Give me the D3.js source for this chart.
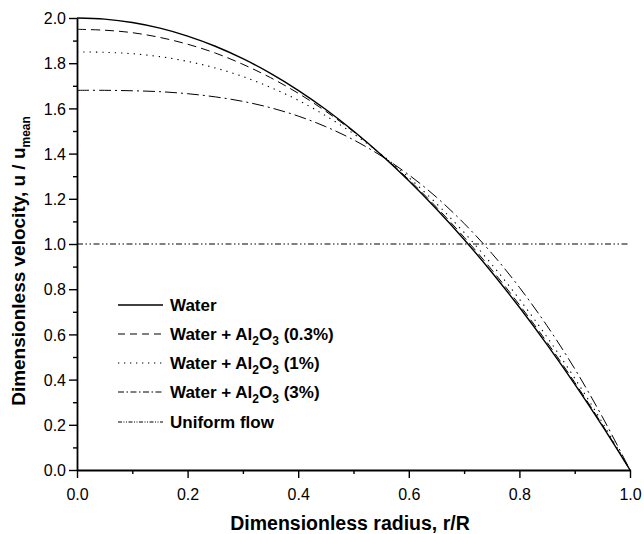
<!DOCTYPE html>
<html>
<head>
<meta charset="utf-8">
<script src="https://cdn.jsdelivr.net/npm/d3@7"></script>
<style>
  body { margin: 0; background: #fff; }
  svg { font-family: "Liberation Sans", Arial, sans-serif; }
</style>
</head>
<body>
<div id="chart"></div>
<script>
const radius = [0, 0.05, 0.1, 0.15, 0.2, 0.25, 0.3, 0.35, 0.4, 0.45, 0.5,
                0.55, 0.6, 0.65, 0.7, 0.75, 0.8, 0.85, 0.9, 0.95, 1.0];

const water = [2.0, 1.995, 1.98, 1.955, 1.92, 1.875, 1.82, 1.755, 1.68, 1.595, 1.5,
               1.395, 1.28, 1.155, 1.02, 0.875, 0.72, 0.555, 0.38, 0.195, 0];
const al03 = [1.95, 1.946, 1.935, 1.914, 1.884, 1.845, 1.795, 1.736, 1.667, 1.587, 1.497,
              1.396, 1.285, 1.163, 1.03, 0.886, 0.731, 0.565, 0.388, 0.2, 0];
const al1 = [1.85, 1.848, 1.842, 1.829, 1.808, 1.779, 1.741, 1.693, 1.636, 1.567, 1.488,
             1.397, 1.294, 1.179, 1.051, 0.91, 0.756, 0.588, 0.406, 0.21, 0];
const al3 = [1.68, 1.68, 1.678, 1.674, 1.665, 1.651, 1.631, 1.603, 1.566, 1.519, 1.461,
             1.39, 1.306, 1.207, 1.091, 0.959, 0.808, 0.638, 0.448, 0.235, 0];
const uniform = [1.0, 1.0];
const uniformRadius = [0, 1];

const xTicks = [0, 0.2, 0.4, 0.6, 0.8, 1.0];
const yTicks = [0, 0.2, 0.4, 0.6, 0.8, 1.0, 1.2, 1.4, 1.6, 1.8, 2.0];

const series = [
  { r: radius, u: water, dash: null, legendDash: null, width: 1.4 },
  { r: radius, u: al03, dash: '9,5', legendDash: '7,5', width: 1 },
  { r: radius, u: al1, dash: '1.3,5', legendDash: '1.3,4.7', width: 1.1 },
  { r: radius, u: al3, dash: '12,4,2,4', legendDash: '6,2.5,1.5,2.5', width: 1 },
  { r: uniformRadius, u: uniform, dash: '6,2.5,1.5,2.5,1.5,2.5', legendDash: '4,1.5,1,1.5,1,1.5', width: 1 }
];

const width = 644, height = 534;
const margin = { left: 77, right: 14, top: 18, bottom: 64 };

const svg = d3.select('#chart').append('svg')
  .attr('width', width)
  .attr('height', height);

const x = d3.scaleLinear().domain([0, 1]).range([margin.left, width - margin.right]);
const y = d3.scaleLinear().domain([0, 2]).range([height - margin.bottom, margin.top]);

// curves
const line = d3.line()
  .x(d => x(d[0]))
  .y(d => y(d[1]))
  .curve(d3.curveCatmullRom);

for (const s of series) {
  svg.append('path')
    .datum(s.r.map((r, i) => [r, s.u[i]]))
    .attr('fill', 'none')
    .attr('stroke', '#000')
    .attr('stroke-width', s.width)
    .attr('stroke-dasharray', s.dash)
    .attr('d', line);
}

// axes
const xAxis = svg.append('g')
  .attr('transform', `translate(0,${y(0)})`)
  .call(d3.axisBottom(x).tickValues(xTicks).tickFormat(d3.format('.1f')).tickSize(8).tickSizeOuter(0));
svg.append('g')
  .attr('transform', `translate(0,${y(0)})`)
  .call(d3.axisBottom(x).tickValues(d3.range(0.1, 1, 0.2)).tickFormat('').tickSize(4).tickSizeOuter(0))
  .select('.domain').remove();

const yAxis = svg.append('g')
  .attr('transform', `translate(${x(0)},0)`)
  .call(d3.axisLeft(y).tickValues(yTicks).tickFormat(d3.format('.1f')).tickSize(8).tickSizeOuter(0));
svg.append('g')
  .attr('transform', `translate(${x(0)},0)`)
  .call(d3.axisLeft(y).tickValues(d3.range(0.1, 2, 0.2)).tickFormat('').tickSize(4).tickSizeOuter(0))
  .select('.domain').remove();

svg.selectAll('.domain').attr('stroke-width', 1.8);
svg.selectAll('.tick line').attr('stroke-width', 1.4);
xAxis.selectAll('text').style('font-size', '16px').attr('dy', null).attr('y', 30);
yAxis.selectAll('text').style('font-size', '16px').attr('x', -11).attr('dy', '0.36em');

// axis titles
svg.append('text')
  .attr('x', 350)
  .attr('y', 530)
  .attr('text-anchor', 'middle')
  .style('font-size', '19.5px')
  .style('font-weight', 'bold')
  .text('Dimensionless radius, r/R');

const yt = svg.append('text')
  .attr('transform', 'translate(25,261) rotate(-90)')
  .attr('text-anchor', 'middle')
  .style('font-size', '19px')
  .style('font-weight', 'bold');
yt.append('tspan').text('Dimensionless velocity, u / u');
yt.append('tspan').attr('dy', 5).style('font-size', '12px').text('mean');

// legend
const legendRows = [
  { s: series[0], parts: [['Water']] },
  { s: series[1], parts: [['Water + Al'], ['2', 'sub'], ['O'], ['3', 'sub'], [' (0.3%)']] },
  { s: series[2], parts: [['Water + Al'], ['2', 'sub'], ['O'], ['3', 'sub'], [' (1%)']] },
  { s: series[3], parts: [['Water + Al'], ['2', 'sub'], ['O'], ['3', 'sub'], [' (3%)']] },
  { s: series[4], parts: [['Uniform flow']] }
];
const legendY = [305, 334, 363, 392, 422];

legendRows.forEach((row, i) => {
  const ly = legendY[i];
  svg.append('line')
    .attr('x1', 118).attr('x2', 163)
    .attr('y1', ly).attr('y2', ly)
    .attr('stroke', '#000')
    .attr('stroke-width', row.s.width)
    .attr('stroke-dasharray', row.s.legendDash);
  const t = svg.append('text')
    .attr('x', 170)
    .attr('y', ly + 6)
    .style('font-size', '17px')
    .style('font-weight', 'bold');
  let shifted = false;
  for (const [txt, kind] of row.parts) {
    const sp = t.append('tspan').text(txt);
    if (kind === 'sub') {
      sp.attr('dy', shifted ? 0 : 5).style('font-size', '12px');
      shifted = true;
    } else if (shifted) {
      sp.attr('dy', -5);
      shifted = false;
    }
  }
});
</script>
</body>
</html>
